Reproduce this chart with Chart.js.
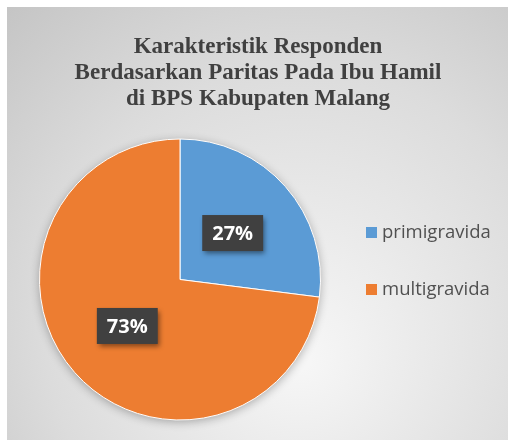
<!DOCTYPE html>
<html><head><meta charset="utf-8">
<script src="https://cdn.jsdelivr.net/npm/chart.js@4"></script>
<style>html,body{margin:0;padding:0;background:#fff}#w{width:508px;height:440px}</style>
</head><body><div id="w"><canvas id="c" width="508" height="440"></canvas></div>
<script>
const categories = ['primigravida', 'multigravida'];
const values = [27, 73];
const labelsText = ['27%', '73%'];
const titleLines = ['Karakteristik Responden', 'Berdasarkan Paritas Pada Ibu Hamil', 'di BPS Kabupaten Malang'];
const colors = ['#5B9BD5', '#ED7D31'];

const bgPlugin = {
  id: 'bg',
  beforeDraw(chart) {
    const ctx = chart.ctx;
    ctx.save();
    ctx.fillStyle = '#fff';
    ctx.fillRect(0, 0, 508, 440);
    const g = ctx.createRadialGradient(300, 360, 10, 300, 300, 420);
    g.addColorStop(0, '#f6f6f6');
    g.addColorStop(0.6, '#dcdcdc');
    g.addColorStop(1, '#c4c4c4');
    ctx.fillStyle = g;
    ctx.fillRect(7, 7, 501, 433);
    // title
    ctx.fillStyle = '#404040';
    ctx.font = 'bold 23px "Liberation Serif"';
    ctx.textAlign = 'center';
    ctx.textBaseline = 'middle';
    titleLines.forEach((t, i) => ctx.fillText(t, 258, 47 + i * 26));
    // legend
    ctx.font = '18.5px "Open Sans"';
    ctx.textAlign = 'left';
    const ys = [232, 289];
    chart.data.labels.forEach((l, i) => {
      ctx.fillStyle = colors[i];
      ctx.fillRect(366, ys[i] - 5, 11, 11);
      ctx.fillStyle = '#505050';
      ctx.fillText(l, 382, ys[i] + 1);
    });
    ctx.restore();
  },
  beforeDatasetsDraw(chart) {
    const ctx = chart.ctx;
    const m = chart.getDatasetMeta(0).data[0];
    ctx.save();
    ctx.shadowColor = 'rgba(0,0,0,0.3)';
    ctx.shadowBlur = 10;
    ctx.shadowOffsetY = 2;
    ctx.fillStyle = '#ED7D31';
    ctx.beginPath();
    ctx.arc(m.x, m.y, m.outerRadius, 0, Math.PI * 2);
    ctx.fill();
    ctx.restore();
  },
  afterDatasetsDraw(chart) {
    const ctx = chart.ctx;
    const meta = chart.getDatasetMeta(0);
    ctx.save();
    ctx.font = 'bold 20px "Open Sans"';
    ctx.textAlign = 'center';
    ctx.textBaseline = 'middle';
    meta.data.forEach((arc, i) => {
      const p = arc.getCenterPoint();
      const t = labelsText[i];
      const w = ctx.measureText(t).width + 20;
      const h = 36;
      ctx.save();
      ctx.shadowColor = 'rgba(0,0,0,0.45)';
      ctx.shadowBlur = 5;
      ctx.shadowOffsetX = 2;
      ctx.shadowOffsetY = 3;
      ctx.fillStyle = '#404040';
      ctx.fillRect(p.x - w / 2, p.y - h / 2, w, h);
      ctx.restore();
      ctx.fillStyle = '#fff';
      ctx.fillText(t, p.x, p.y + 1);
    });
    ctx.restore();
  }
};

new Chart(document.getElementById('c'), {
  type: 'pie',
  data: {
    labels: categories,
    datasets: [{ data: values, backgroundColor: colors, borderColor: '#ffffff', borderWidth: 1 }]
  },
  options: {
    responsive: false,
    animation: false,
    devicePixelRatio: 1,
    layout: { padding: { top: 138, bottom: 19, left: 39, right: 187 } },
    plugins: { legend: { display: false }, title: { display: false }, tooltip: { enabled: false } }
  },
  plugins: [bgPlugin]
});
</script>
</body></html>
